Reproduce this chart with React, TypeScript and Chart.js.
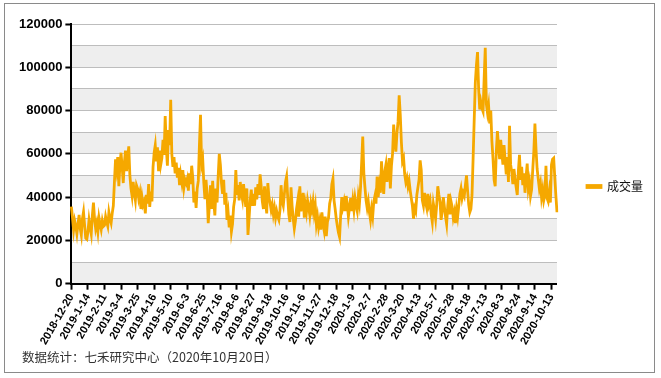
import React, { useEffect, useRef } from 'react';
import { Chart, registerables } from 'chart.js';

Chart.register(...registerables);

const seriesName = '成交量';
const footerText = '数据统计：七禾研究中心（2020年10月20日）';

// tick labels, one every 15 trading days
const tickDates = [
  '2018-12-20', '2019-1-14', '2019-2-11', '2019-3-4', '2019-3-25', '2019-4-16', '2019-5-10', '2019-6-3',
  '2019-6-25', '2019-7-16', '2019-8-6', '2019-8-27', '2019-9-18', '2019-10-16', '2019-11-6', '2019-11-27',
  '2019-12-18', '2020-1-9', '2020-2-7', '2020-2-28', '2020-3-20', '2020-4-13', '2020-5-7', '2020-5-28',
  '2020-6-18', '2020-7-13', '2020-8-3', '2020-8-24', '2020-9-14', '2020-10-13',
];

// daily volume, 2018-12-20 .. 2019-4-15
const volA = [
  35600, 30500, 24800, 29000, 26500, 23000, 27500, 31800, 25500, 22500, 30000, 33200, 27000, 21000, 20500,
  24000, 29500, 26000, 23000, 31500, 37500, 30000, 25500, 28000, 24000, 30500, 27500, 25000, 29000, 26500,
  27000, 31000, 28500, 26500, 33000, 30000, 28000, 32500, 36000, 47000, 57500, 53000, 58500, 45000, 55000,
  60500, 54000, 46500, 56000, 61500, 52000, 58000, 63500, 50000, 44000, 40500, 47000, 42000, 38500, 45500,
  44000, 39500, 42000, 34500, 40000, 36500, 38000, 32500, 41000, 37000, 46000, 35500, 42500, 38000, 54000,
];
// 2019-4-16 .. 2019-8-5
const volB = [
  60500, 64000, 56500, 63000, 52000, 61500, 55000, 58000, 66500, 59500, 77500, 63000, 54500, 71000, 64000,
  85000, 60000, 54000, 58500, 51000, 56000, 49000, 53500, 45500, 50500, 47000, 52500, 44500, 48000, 46500,
  48500, 43000, 51000, 46000, 54500, 49000, 37500, 42500, 35000, 44000, 47500, 64000, 78000, 55000, 57500,
  46500, 39000, 48000, 41000, 28000, 36000, 45500, 34500, 47500, 38000, 31500, 44000, 37500, 49500, 60000,
  55000, 46500, 41500, 48000, 36500, 42000, 29500, 33000, 26000, 31500, 24000, 27500, 35500, 39000, 52500,
];
// 2019-8-6 .. 2019-11-26
const volC = [
  41000, 45500, 38500, 47000, 42000, 39000, 46000, 40500, 35500, 44000, 22500, 30000, 38500, 43500, 36000,
  41500, 36000, 44500, 39000, 46000, 41000, 50500, 45000, 38000, 34500, 45000, 37500, 32500, 46500, 40000,
  37500, 34000, 36500, 32000, 35000, 30500, 33500, 31000, 29500, 34000, 45500, 38000, 36000, 41500, 47000,
  49500, 40000, 32000, 28500, 44500, 36000, 30000, 25500, 29000, 34500, 38000, 31000, 45000, 33500, 37000,
  42000, 30500, 36500, 33000, 38500, 35500, 31500, 37000, 34000, 38000, 32500, 36000, 27500, 31000, 26000,
];
// 2019-11-27 .. 2020-3-19
const volD = [
  29000, 25000, 33000, 27500, 24500, 31000, 22000, 28500, 30500, 37000, 39500, 46000, 48500, 38500, 34500,
  30000, 26500, 23500, 21500, 31500, 40000, 35500, 38000, 33500, 40500, 36500, 31000, 35000, 39500, 33500,
  38500, 34000, 39500, 36000, 33500, 40500, 37000, 44500, 56000, 68000, 51000, 44500, 38500, 35000, 38000,
  33000, 29500, 34500, 31000, 38000, 40500, 37000, 49500, 40000, 45500, 42000, 56500, 46500, 41500, 52000,
  55000, 47000, 53500, 58000, 44000, 54500, 60000, 73500, 66000, 61000, 69500, 75000, 87000, 78000, 65500,
];
// 2020-3-20 .. 2020-7-10
const volE = [
  56500, 58000, 50500, 47000, 49000, 45000, 47500, 43000, 39500, 36000, 30000, 35000, 33500, 41000, 44500,
  48000, 57000, 52500, 38500, 36000, 42000, 37500, 35000, 41500, 36500, 38500, 32000, 28500, 37000, 34000,
  30000, 36500, 45000, 41000, 38000, 29500, 33500, 40000, 35500, 31000, 27500, 36000, 41500, 32000, 38000,
  35500, 30500, 33000, 28000, 34500, 31000, 36000, 41500, 44000, 39500, 42000, 40500, 45500, 50000, 43000,
  36500, 33000, 34500, 41000, 58000, 76000, 93000, 101000, 107000, 90000, 80500, 84000, 81000, 79500, 95000,
];
// 2020-7-13 .. 2020-10-20
const volF = [
  109000, 83000, 79000, 82500, 74000, 80000, 66000, 58000, 48000, 45000, 61000, 70500, 64000, 57500, 66500,
  60500, 55000, 64000, 57500, 50500, 58500, 47000, 73000, 55000, 51500, 46000, 53000, 48500, 44500, 41000,
  52000, 59500, 48000, 54000, 45500, 51000, 42000, 49500, 55500, 44000, 47000, 40500, 43500, 52500, 61000,
  74000, 62000, 53000, 48500, 44000, 46500, 40000, 43500, 38500, 41000, 54500, 39500, 38000, 42500, 37500,
  55000, 57500, 58000, 49000, 40500, 33000,
];

const TICK_EVERY = 15;
const LINE_COLOR = '#F5A800';
const LABEL_FONT = 'Liberation Sans, Arial, Helvetica, sans-serif';

export default function App() {
  const ref = useRef<HTMLCanvasElement | null>(null);

  useEffect(() => {
    if (!ref.current) return;
    const volume = [...volA, ...volB, ...volC, ...volD, ...volE, ...volF];
    const labels = volume.map((_, i) => (i % TICK_EVERY === 0 ? tickDates[i / TICK_EVERY] ?? '' : ''));

    const bands = {
      id: 'bands',
      beforeDraw(chart: any) {
        const { ctx, chartArea, scales } = chart;
        const y = scales.y;
        ctx.save();
        ctx.fillStyle = '#eeeeee';
        for (let v = 0; v < 120000; v += 20000) {
          const top = y.getPixelForValue(v + 10000);
          const bot = y.getPixelForValue(v);
          ctx.fillRect(chartArea.left, top, chartArea.right - chartArea.left, bot - top);
        }
        ctx.restore();
      },
    };

    const chart = new Chart(ref.current, {
      type: 'line',
      data: {
        labels,
        datasets: [
          {
            label: seriesName,
            data: volume,
            borderColor: LINE_COLOR,
            backgroundColor: LINE_COLOR,
            borderWidth: 2.8,
            pointRadius: 0,
            tension: 0,
            fill: false,
          },
        ],
      },
      options: {
        animation: false,
        responsive: false,
        devicePixelRatio: 1,
        layout: { padding: { top: 24, left: 16, right: 8, bottom: 29 } },
        plugins: {
          tooltip: { enabled: false },
          legend: {
            position: 'right',
            align: 'center',
            labels: {
              boxWidth: 14,
              boxHeight: 2,
              padding: 30,
              color: '#111',
              font: { family: 'Noto Sans CJK SC', size: 12 },
            },
          },
        },
        scales: {
          x: {
            ticks: {
              autoSkip: false,
              maxRotation: 60,
              minRotation: 60,
              color: '#000',
              padding: 2,
              font: { family: LABEL_FONT, size: 11, weight: 'bold' },
            },
            grid: {
              drawOnChartArea: false,
              drawTicks: true,
              tickLength: 6,
              tickWidth: 2,
              tickColor: (c: any) => (c.index % TICK_EVERY === 0 ? '#000' : 'rgba(0,0,0,0)'),
            },
            border: { color: '#000', width: 2 },
          },
          y: {
            min: 0,
            max: 120000,
            ticks: {
              stepSize: 10000,
              autoSkip: false,
              color: '#000',
              padding: 3,
              font: { family: LABEL_FONT, size: 13, weight: 'bold' },
              callback: (v: any) => (Number(v) % 20000 === 0 ? String(v) : ''),
            },
            grid: {
              color: '#bdbdbd',
              lineWidth: 1,
              tickLength: 6,
              tickWidth: 2,
              tickColor: (c: any) =>
                c.tick && c.tick.value % 20000 === 0 ? '#000' : 'rgba(0,0,0,0)',
            },
            border: { color: '#000', width: 2 },
          },
        },
      },
      plugins: [bands],
    } as any);

    return () => chart.destroy();
  }, []);

  return (
    <div style={{ position: 'absolute', left: 0, top: 0, width: 661, height: 378, background: '#fff', overflow: 'hidden' }}>
      <div
        style={{
          position: 'absolute',
          left: 4,
          top: 3,
          width: 651,
          height: 370,
          border: '1px solid #8a8a8a',
          boxSizing: 'border-box',
        }}
      />
      <canvas ref={ref} width={661} height={378} style={{ position: 'absolute', left: 0, top: 0 }} />
      <div
        style={{
          position: 'absolute',
          left: 22,
          top: 348,
          fontFamily: 'Noto Sans CJK SC, sans-serif',
          fontSize: 12.5,
          color: '#333',
          whiteSpace: 'nowrap',
          lineHeight: '18px',
        }}
      >
        {footerText}
      </div>
    </div>
  );
}
